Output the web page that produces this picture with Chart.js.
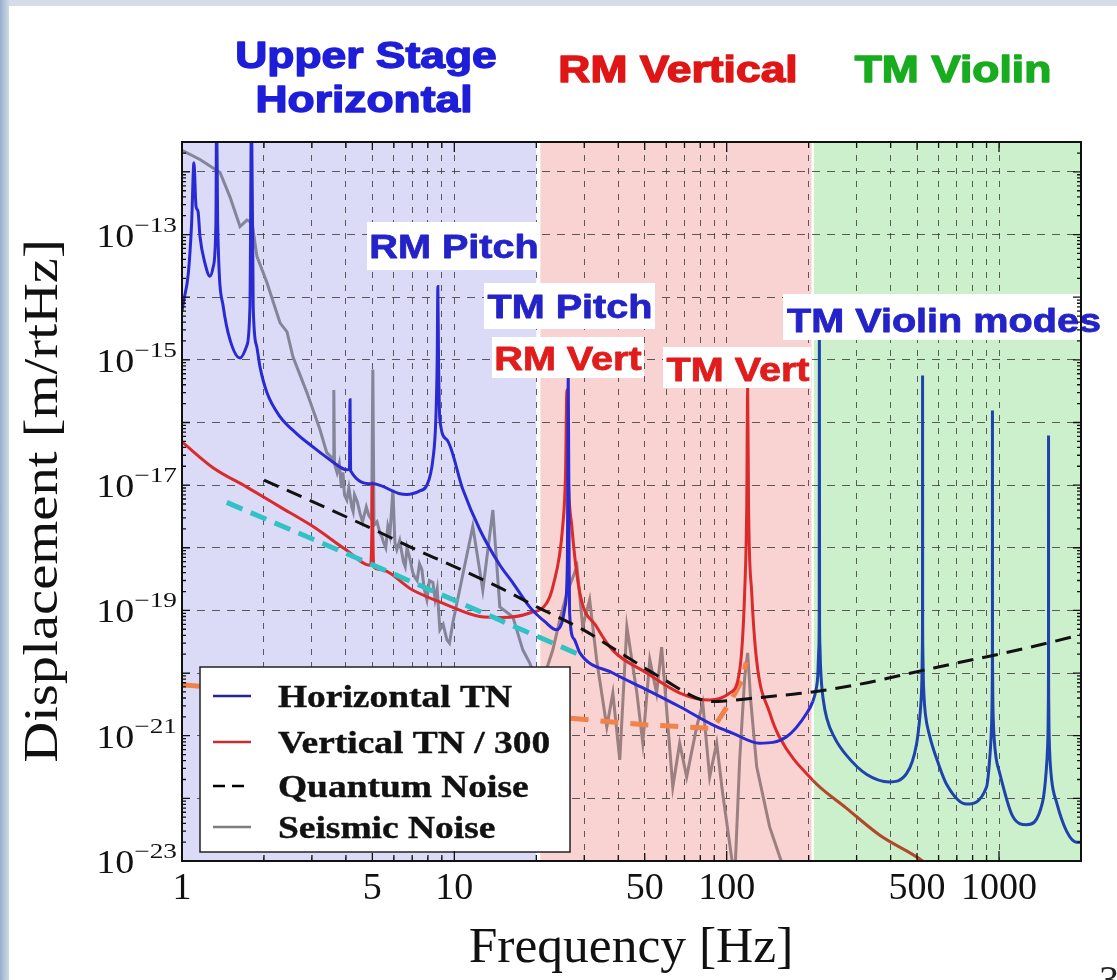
<!DOCTYPE html>
<html>
<head>
<meta charset="utf-8">
<title>Suspension thermal noise</title>
<script src="https://cdn.jsdelivr.net/npm/chart.js@4.4.1/dist/chart.umd.min.js"></script>
<style>
  html, body { margin: 0; padding: 0; }
  body { width: 1117px; height: 980px; overflow: hidden; position: relative;
         background: linear-gradient(90deg, #97adcc 0px, #b8c8dd 5px, #d3dce8 10px, #d3dce8 100%); }
  #sheet { position: absolute; left: 9px; top: 6px; right: 0; bottom: 0; background: #fff; }
  #myChart { position: absolute; left: 0; top: 0; }
</style>
</head>
<body>
<div id="sheet"></div>
<canvas id="myChart" width="1117" height="980"></canvas>
<script>
// axis labels
const xTicks = [1, 5, 10, 50, 100, 500, 1000];
const yTickExps = [-13, -15, -17, -19, -21, -23];

// shaded frequency bands [Hz]
const regionNames = [['Upper Stage', 'Horizontal'], ['RM Vertical'], ['TM Violin']];
const regionFrom = [1, 20.7, 209];
const regionTo = [20, 205, 2000];

const peakNames = ['RM Pitch', 'TM Pitch', 'RM Vert', 'TM Vert', 'TM Violin modes'];
const legendNames = ['Horizontal TN', 'Vertical TN / 300', 'Quantum Noise', 'Seismic Noise'];

// Horizontal thermal noise [m/rtHz]
const horizFreq = [1, 1.011, 1.055, 1.085, 1.106, 1.126, 1.145, 1.164, 1.214, 1.267, 1.303, 1.332, 1.34, 1.352, 1.417, 1.5, 1.633, 1.727, 1.776, 1.8, 1.826, 1.88, 1.933, 2.05, 2.29, 2.64, 3.02, 3.49, 4.03, 4.12, 4.14, 4.16, 5.02, 6.31, 6.69, 7.47, 7.93, 8.34, 8.55, 8.65, 8.7, 8.75, 8.85, 9.39, 10.75, 12.41, 14.69, 16.4, 18.9, 21.5, 23.7, 24.8, 25.5, 26.0, 26.2, 26.4, 26.5, 27.5, 28.9, 38.2, 50.9, 67.3, 88.9, 105, 132, 166, 197, 207, 213, 216, 218, 218.7, 219, 219.3, 220, 221, 223, 226, 233, 250, 275, 327, 396, 458, 498, 512, 518, 521, 523, 523.7, 524, 524.3, 525, 527, 530, 536, 556, 600, 641, 760, 900, 925, 938, 943, 945, 945.7, 946, 946.3, 947, 949, 952, 960, 975, 1004, 1122, 1262, 1445, 1490, 1508, 1514, 1518, 1519.5, 1520, 1520.5, 1522, 1526, 1534, 1560, 1626, 1770, 1925, 2000];
const horizTN = [5.9e-15, 8.1e-15, 2.4e-14, 1.55e-13, 1.4e-12, 2.8e-13, 2.35e-13, 9.4e-14, 3.5e-14, 2.16e-14, 3.1e-14, 1.54e-13, 1e-11, 1.5e-13, 7.1e-15, 2.1e-15, 1.07e-15, 1.65e-15, 7.1e-15, 1e-11, 7e-15, 1.65e-15, 7.8e-16, 3.0e-16, 1.24e-16, 6.6e-17, 4.1e-17, 2.55e-17, 1.76e-17, 1.8e-17, 2.3e-16, 1.7e-17, 1.05e-17, 7.3e-18, 7.1e-18, 8.1e-18, 1.0e-17, 2.55e-17, 1.1e-16, 1e-15, 1.48e-14, 1e-15, 1.1e-16, 5.3e-17, 8.5e-18, 1.94e-18, 5.3e-19, 2.76e-19, 1.14e-19, 6.6e-20, 4.9e-20, 6.3e-20, 1.15e-19, 6e-19, 5.4e-16, 6e-19, 9.1e-20, 3.5e-20, 2.1e-20, 1.0e-20, 5.4e-21, 2.9e-21, 1.49e-21, 1.1e-21, 7.6e-22, 9.6e-22, 2.3e-21, 3.5e-21, 5.5e-21, 9e-21, 2.5e-20, 8e-20, 3e-15, 8e-20, 2.7e-20, 1.35e-20, 6.8e-21, 3.9e-21, 1.9e-21, 9e-22, 4.9e-22, 2.4e-22, 1.83e-22, 2.5e-22, 7.4e-22, 2e-21, 4e-21, 8e-21, 2.5e-20, 8e-20, 5.6e-16, 8e-20, 2.5e-20, 9e-21, 4.5e-21, 2.3e-21, 1e-21, 3.5e-22, 1.7e-22, 8.1e-23, 1.52e-22, 4.5e-22, 1.3e-21, 3.5e-21, 1.1e-20, 4e-20, 1.55e-16, 4e-20, 1.2e-20, 4e-21, 2e-21, 9e-22, 4.5e-22, 2.6e-22, 5.2e-23, 3.8e-23, 8.7e-23, 2.7e-22, 6.7e-22, 1.3e-21, 4e-21, 1.6e-20, 6.2e-17, 1.6e-20, 4e-21, 1.3e-21, 5.7e-22, 2e-22, 8.7e-23, 3.0e-23, 2.0e-23, 2.0e-23];

// Vertical thermal noise / 300
const vertFreq = [1, 1.3, 1.73, 2.29, 3.02, 4.0, 4.93, 4.98, 5.0, 5.02, 5.07, 5.33, 7.05, 9.38, 12.4, 15, 18.9, 21.8, 23, 25, 25.6, 25.9, 26.2, 27.0, 28.9, 33.3, 38.2, 50.9, 67.3, 86.6, 102.6, 111.6, 116.4, 118.5, 119.4, 120.3, 123.6, 128.8, 144, 156, 207, 275, 364, 524, 600];
const vertTN = [4.9e-17, 1.9e-17, 9.3e-18, 4.5e-18, 2.2e-18, 9.3e-19, 5.2e-19, 2e-18, 1.1e-17, 2e-18, 4.9e-19, 4.5e-19, 2.1e-19, 1.23e-19, 8e-20, 7.7e-20, 9.1e-20, 1.3e-19, 2.4e-19, 2.2e-18, 1.5e-17, 3.3e-16, 1.5e-17, 2.2e-18, 1.9e-19, 5.5e-20, 2.3e-20, 1e-20, 4.8e-21, 3.7e-21, 4.8e-21, 1.1e-20, 1.9e-19, 5e-18, 3.6e-16, 5e-18, 1.9e-19, 1.6e-20, 2.3e-21, 9.6e-22, 1.95e-22, 7e-23, 2.6e-23, 1e-23, 6e-24];

// Quantum noise
const qnFreq = [2, 3, 5, 7, 10, 15, 20, 30, 40, 50, 60, 70, 80, 90, 100, 120, 150, 200, 300, 500, 700, 1000, 1500, 2000];
const quantum = [1.2e-17, 5.5e-18, 2.0e-18, 1.0e-18, 5.0e-19, 2.2e-19, 1.15e-19, 4.8e-20, 2.2e-20, 1.2e-20, 7.5e-21, 5.0e-21, 3.8e-21, 3.5e-21, 3.6e-21, 3.9e-21, 4.3e-21, 4.9e-21, 6.5e-21, 1.05e-20, 1.45e-20, 2.0e-20, 3.0e-20, 4.1e-20];

// Seismic noise
const seisFreq = [1, 1.164, 1.379, 1.5, 1.633, 1.732, 1.807, 1.884, 2.05, 2.29, 2.43, 2.555, 2.875, 3.21, 3.4, 3.59, 3.61, 3.63, 3.71, 3.78, 3.85, 3.9, 3.95, 4.03, 4.1, 4.2, 4.25, 4.3, 4.4, 4.5, 4.6, 4.75, 4.85, 4.97, 5.02, 5.07, 5.2, 5.33, 5.42, 5.5, 5.6, 5.7, 5.8, 5.95, 6.05, 6.15, 6.3, 6.5, 6.6, 6.7, 6.85, 7.04, 7.15, 7.3, 7.45, 7.6, 7.75, 7.93, 8.1, 8.34, 8.5, 8.65, 8.85, 9.1, 9.39, 9.6, 9.87, 11.69, 12.72, 13.85, 14.69, 16.4, 17.84, 18.9, 20.6, 23.0, 24.4, 25.9, 28.2, 29.6, 31.4, 33.3, 36.3, 38.2, 40.5, 43.0, 46.8, 49.2, 52.2, 55.3, 57.7, 60.2, 63.4, 67.2, 71.3, 77.6, 81.7, 86.6, 91.9, 96.6, 102.5, 107, 111.6, 116.5, 119.4, 122.5, 128.9, 143.8, 163];
const seismic = [2.2e-12, 1.58e-12, 9.8e-13, 4.0e-13, 1.34e-13, 1.7e-13, 1.55e-13, 4.5e-14, 1.71e-14, 3.9e-15, 2.8e-15, 1.12e-15, 3.0e-16, 7.7e-17, 3.3e-17, 2.6e-17, 3.3e-16, 2.2e-17, 1.58e-17, 2.2e-17, 9e-18, 1.6e-17, 7e-18, 5.8e-18, 9e-18, 4.5e-18, 3.8e-18, 7e-18, 5.5e-18, 3.6e-18, 2.6e-18, 4.5e-18, 3.3e-18, 2.8e-18, 7e-16, 2.3e-18, 2.6e-18, 1.74e-18, 1.5e-18, 1.2e-18, 1.0e-18, 2.2e-18, 1.6e-18, 8.5e-18, 1.2e-18, 9.3e-19, 1.3e-18, 6e-19, 5e-19, 1e-18, 7e-19, 4.0e-19, 3.4e-19, 3e-19, 5.5e-19, 4.5e-19, 2.2e-19, 1.48e-19, 3e-19, 2.8e-19, 1.5e-19, 2.2e-19, 4.9e-20, 6e-20, 3.4e-20, 3e-20, 6.3e-20, 2.2e-18, 2.1e-19, 4.0e-18, 1.14e-19, 7.9e-20, 2.35e-20, 1.46e-20, 5.4e-21, 2.35e-20, 7.1e-20, 1.9e-19, 5.0e-19, 5.5e-20, 1.48e-19, 1.63e-20, 1.38e-21, 4.8e-21, 4.1e-22, 5.5e-20, 4.8e-21, 7.6e-22, 1.63e-20, 4.8e-21, 2.6e-20, 2.6e-21, 1.52e-22, 7.6e-22, 2.2e-22, 1.38e-21, 3.3e-21, 2.2e-22, 7.6e-22, 1.22e-22, 1.94e-23, 5e-24, 4.1e-22, 8.7e-21, 2.1e-20, 3.7e-21, 3.2e-22, 3.5e-23, 7e-24];

// unlabelled dashed traces
const cyanFreq = [1.46, 3.96, 10, 28.9];
const cyanLine = [5.3e-18, 8.3e-19, 1.45e-19, 1.95e-20];
const orangeFreq = [1, 10, 26.5, 50, 89, 95, 105, 114.5, 118];
const orangeLine = [6.5e-21, 2.8e-21, 1.9e-21, 1.5e-21, 1.3e-21, 2e-21, 4e-21, 8e-21, 1.5e-20];

const pts = (xs, ys) => xs.map((x, i) => ({ x: x, y: ys[i] }));
const isDecade = v => Math.abs(Math.log10(v) - Math.round(Math.log10(v))) < 1e-6;
const mant = v => v / Math.pow(10, Math.floor(Math.log10(v) + 1e-9));

const SERIF = '"Liberation Serif", "Times New Roman", serif';
const SANS = '"Liberation Sans", Arial, sans-serif';

// draws text stretched horizontally by sx, optionally thickened with a stroke
function txt(ctx, s, x, y, font, color, sx, align, thick) {
    ctx.save();
    ctx.font = font;
    ctx.fillStyle = color;
    ctx.textAlign = 'left';
    ctx.textBaseline = 'alphabetic';
    const w = ctx.measureText(s).width * sx;
    const left = align === 'center' ? x - w / 2 : align === 'right' ? x - w : x;
    ctx.translate(left, y);
    ctx.scale(sx, 1);
    ctx.fillText(s, 0, 0);
    if (thick) {
        ctx.strokeStyle = color;
        ctx.lineWidth = thick;
        ctx.lineJoin = 'round';
        ctx.strokeText(s, 0, 0);
    }
    ctx.restore();
    return w;
}

const bandPlugin = {
    id: 'bands',
    beforeDraw(chart) {
        const { ctx, chartArea: a, scales: { x } } = chart;
        const fills = ['#dbdbf7', '#f9d2d2', '#ccefcc'];
        ctx.save();
        regionFrom.forEach((f, i) => {
            const x0 = x.getPixelForValue(f);
            const x1 = x.getPixelForValue(regionTo[i]);
            ctx.fillStyle = fills[i];
            ctx.fillRect(x0, a.top, x1 - x0, a.bottom - a.top);
        });
        ctx.restore();
    }
};

const overlayPlugin = {
    id: 'overlay',
    afterDraw(chart) {
        const { ctx, chartArea: a, scales: { x, y } } = chart;

        // peak labels on white boxes
        const boxes = [
            [367, 222, 173, 48, 454, 258, '#2323c8'],
            [484, 283, 171, 46, 570, 318, '#2323c8'],
            [492, 337, 152, 41, 568, 370, '#e01c1c'],
            [663, 347, 148, 41, 738, 381, '#e01c1c'],
            [783, 294, 322, 46, 944, 332, '#2323c8']
        ];
        peakNames.forEach((name, i) => {
            const b = boxes[i];
            ctx.fillStyle = '#ffffff';
            ctx.fillRect(b[0], b[1], b[2], b[3]);
            txt(ctx, name, b[4], b[5], 'bold 33px ' + SANS, b[6], 1.2, 'center', 0.8);
        });

        // legend
        const lx = 200, ly = 667, lw = 370, lh = 185;
        ctx.save();
        ctx.fillStyle = '#ffffff';
        ctx.fillRect(lx, ly, lw, lh);
        ctx.strokeStyle = '#222';
        ctx.lineWidth = 1.5;
        ctx.strokeRect(lx, ly, lw, lh);
        const legendColors = ['#24248e', '#c42e2e', '#000000', '#7c7c7c'];
        const rowY = [696, 742, 786, 827];
        legendNames.forEach((name, i) => {
            ctx.strokeStyle = legendColors[i];
            ctx.lineWidth = 2.5;
            ctx.setLineDash(i === 2 ? [12, 7] : []);
            ctx.beginPath();
            ctx.moveTo(213, rowY[i]);
            ctx.lineTo(251, rowY[i]);
            ctx.stroke();
            ctx.setLineDash([]);
            txt(ctx, name, 278, rowY[i] + 11, 'bold 32px ' + SERIF, '#111', 1.17, 'left', 0.4);
        });
        ctx.restore();

        // frame
        ctx.save();
        ctx.strokeStyle = '#111';
        ctx.lineWidth = 2;
        ctx.setLineDash([]);
        ctx.strokeRect(a.left, a.top, a.right - a.left, a.bottom - a.top);

        // inward tick marks
        ctx.lineWidth = 1.3;
        ctx.beginPath();
        x.ticks.forEach(t => {
            if (Math.abs(mant(t.value) - 1.5) < 1e-6) return;
            const px = x.getPixelForValue(t.value);
            const len = isDecade(t.value) ? 10 : (Math.abs(mant(t.value) - 5) < 1e-6 ? 8 : 6);
            ctx.moveTo(px, a.bottom); ctx.lineTo(px, a.bottom - len);
            ctx.moveTo(px, a.top); ctx.lineTo(px, a.top + len);
        });
        y.ticks.forEach(t => {
            if (Math.abs(mant(t.value) - 1.5) < 1e-6) return;
            const py = y.getPixelForValue(t.value);
            const len = isDecade(t.value) ? 8 : 4;
            ctx.moveTo(a.left, py); ctx.lineTo(a.left + len, py);
            ctx.moveTo(a.right, py); ctx.lineTo(a.right - len, py);
        });
        ctx.stroke();
        ctx.restore();

        // tick labels
        xTicks.forEach(v => {
            txt(ctx, String(v), x.getPixelForValue(v), 899, '38px ' + SERIF, '#111', 1.0, 'center');
        });
        yTickExps.forEach(e => {
            const py = y.getPixelForValue(Math.pow(10, e));
            const ex = '\u2212' + Math.abs(e);
            ctx.font = '21px ' + SERIF;
            const ew = ctx.measureText(ex).width * 1.3;
            const right = 177;
            txt(ctx, ex, right - ew, py - 3, '21px ' + SERIF, '#111', 1.3, 'left');
            txt(ctx, '10', right - ew, py + 12, '34px ' + SERIF, '#111', 1.12, 'right');
        });

        // axis titles
        txt(ctx, 'Frequency [Hz]', 631, 962, '50px ' + SERIF, '#111', 1.03, 'center');
        ctx.save();
        ctx.translate(57, 501);
        ctx.rotate(-Math.PI / 2);
        txt(ctx, 'Displacement [m/rtHz]', 0, 0, '48px ' + SERIF, '#111', 1.18, 'center');
        ctx.restore();

        // band titles above the plot
        const titleCx = [[366, 364], [678], [953]];
        const titleBase = [[68, 112], [82], [82]];
        const titleColor = ['#1e1ed8', '#e01616', '#18ac1e'];
        regionNames.forEach((lines, i) => {
            lines.forEach((s, j) => {
                txt(ctx, s, titleCx[i][j], titleBase[i][j], 'bold 37px ' + SANS, titleColor[i], 1.2, 'center', 1.4);
            });
        });

        // slide number, cut by the page edge
        txt(ctx, '3', 1099, 993, '40px ' + SERIF, '#222', 1.0, 'left');
    }
};

const ctx = document.getElementById('myChart').getContext('2d');
const blueSeg = c => (c.p0.parsed.x >= 205 ? '#1e43ac' : undefined);
const redSeg = c => (c.p0.parsed.x >= 205 ? '#b2482a' : undefined);
const greySeg = c => (c.p0.parsed.x >= 20.5 ? '#9c7f80' : undefined);

const myChart = new Chart(ctx, {
    type: 'line',
    data: {
        datasets: [
            { label: 'Quantum Noise', data: pts(qnFreq, quantum), borderColor: '#111', borderWidth: 3, borderDash: [16, 9], cubicInterpolationMode: 'monotone' },
            { label: 'Horizontal TN', data: pts(horizFreq, horizTN), borderColor: '#2a2ad2', borderWidth: 3, cubicInterpolationMode: 'monotone', segment: { borderColor: blueSeg } },
            { label: 'cyan', data: pts(cyanFreq, cyanLine), borderColor: '#33c2c4', borderWidth: 5, borderDash: [17, 9] },
            { label: 'Vertical TN / 300', data: pts(vertFreq, vertTN), borderColor: '#da2a2c', borderWidth: 3, cubicInterpolationMode: 'monotone', segment: { borderColor: redSeg } },
            { label: 'orange', data: pts(orangeFreq, orangeLine), borderColor: '#f0824a', borderWidth: 5, borderDash: [18, 12] },
            { label: 'Seismic Noise', data: pts(seisFreq, seismic), borderColor: '#85859a', borderWidth: 3, segment: { borderColor: greySeg } }
        ].map(d => Object.assign({ pointRadius: 0, tension: 0, fill: false, clip: 0 }, d))
    },
    options: {
        responsive: false,
        animation: false,
        devicePixelRatio: 1,
        layout: { padding: { left: 182, top: 142, right: 36, bottom: 119 } },
        plugins: { legend: { display: false }, tooltip: { enabled: false } },
        scales: {
            x: {
                type: 'logarithmic', min: 1, max: 2000,
                ticks: { display: false },
                grid: {
                    drawTicks: false, lineWidth: 1,
                    color: c => (Math.abs(mant(c.tick.value) - 1.5) < 1e-6 ? 'rgba(0,0,0,0)' : 'rgba(55,55,55,0.8)')
                },
                border: { display: false, dash: [6, 7] }
            },
            y: {
                type: 'logarithmic', min: 1e-23, max: 3e-12,
                ticks: { display: false },
                grid: {
                    drawTicks: false, lineWidth: 1,
                    color: c => (isDecade(c.tick.value) ? 'rgba(55,55,55,0.8)' : 'rgba(0,0,0,0)')
                },
                border: { display: false, dash: [8, 7] }
            }
        }
    },
    plugins: [bandPlugin, overlayPlugin]
});
</script>
</body>
</html>
